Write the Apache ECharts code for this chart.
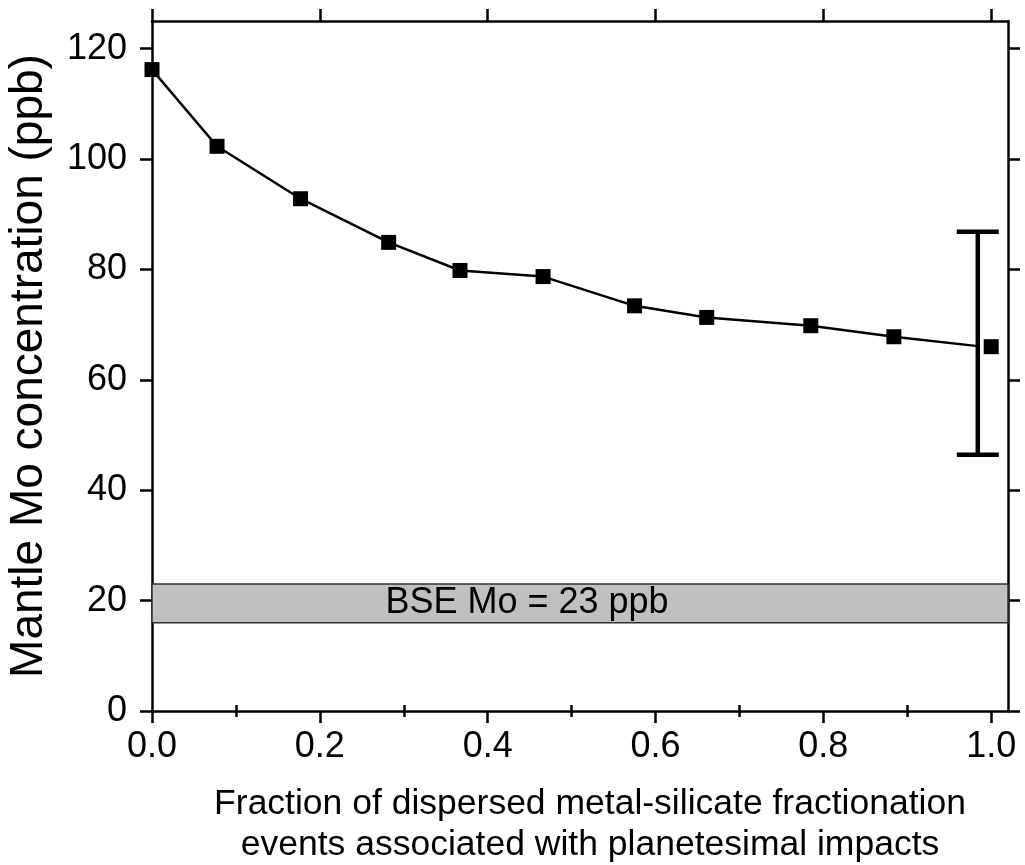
<!DOCTYPE html>
<html>
<head>
<meta charset="utf-8">
<script src="https://cdn.jsdelivr.net/npm/echarts@6/dist/echarts.min.js"></script>
<style>
  html, body { margin: 0; padding: 0; background: #fff; }
  #chart { width: 1025px; height: 865px; }
</style>
</head>
<body>
<div id="chart"></div>
<script>
// Fraction of dispersed events tied to planetesimal impacts
const fraction = [0.0, 0.0775, 0.177, 0.282, 0.367, 0.466, 0.575, 0.661, 0.785, 0.884, 0.984];
// Resulting mantle Mo concentration (ppb)
const moConc = [116.2, 102.3, 92.8, 84.9, 79.8, 78.7, 73.4, 71.3, 69.8, 67.8, 66.1];
// Final value drawn as a stand-alone marker at fraction 1.0
const finalPoint = [1.0, 66.0];
// Error bar on the final value: [x, low, high]
const errorBar = [0.984, 46.4, 86.8];
// Bulk silicate Earth band (ppb)
const bseBand = [16, 23];
const bseLabel = 'BSE Mo = 23 ppb';

const xMajor = [0, 0.2, 0.4, 0.6, 0.8, 1.0];
const xMinor = [0.1, 0.3, 0.5, 0.7, 0.9];
const yMajor = [0, 20, 40, 60, 80, 100, 120];

const FONT = '"Liberation Sans", Arial, sans-serif';
const INK = '#000';

function xAxisDef(opts) {
  return Object.assign({
    type: 'value', min: 0, max: 1.02,
    axisLine: { show: true, onZero: false, lineStyle: { color: INK, width: 2.5 } },
    splitLine: { show: false },
    axisLabel: { show: false },
    axisTick: { show: true, inside: false, length: 12, lineStyle: { color: INK, width: 2.5 }, customValues: xMajor }
  }, opts);
}
function yAxisDef(opts) {
  return Object.assign({
    type: 'value', min: 0, max: 125,
    axisLine: { show: true, onZero: false, lineStyle: { color: INK, width: 2.5 } },
    splitLine: { show: false },
    axisLabel: { show: false },
    axisTick: { show: true, inside: false, length: 12, lineStyle: { color: INK, width: 2.5 }, customValues: yMajor }
  }, opts);
}

const chart = echarts.init(document.getElementById('chart'), null, { renderer: 'canvas' });

chart.setOption({
  backgroundColor: '#fff',
  animation: false,
  textStyle: { fontFamily: FONT },
  grid: { left: 152, right: 17, top: 21, bottom: 154, containLabel: false, outerBoundsMode: 'none' },
  xAxis: [
    xAxisDef({
      position: 'bottom',
      name: 'Fraction of dispersed metal-silicate fractionation\nevents associated with planetesimal impacts',
      nameLocation: 'middle',
      nameGap: 73,
      nameTextStyle: { fontSize: 35.5, color: INK, lineHeight: 41, fontFamily: FONT, padding: [0, 0, 0, 20] },
      axisLabel: {
        show: true, fontSize: 36, color: INK, margin: 18, fontFamily: FONT,
        customValues: xMajor,
        formatter: v => v.toFixed(1)
      }
    }),
    xAxisDef({
      position: 'bottom', axisLine: { show: false },
      axisTick: { show: true, length: 6, lineStyle: { color: INK, width: 2.5 }, customValues: xMinor }
    }),
    xAxisDef({ position: 'top' }),
    xAxisDef({
      position: 'top', axisLine: { show: false },
      axisTick: { show: true, length: 6, lineStyle: { color: INK, width: 2.5 }, customValues: xMinor }
    })
  ],
  yAxis: [
    yAxisDef({
      position: 'left',
      name: 'Mantle Mo concentration (ppb)',
      nameLocation: 'middle',
      nameGap: 100,
      nameTextStyle: { fontSize: 46, color: INK, fontFamily: FONT },
      axisLabel: {
        show: true, fontSize: 36, color: INK, margin: 25, fontFamily: FONT,
        customValues: yMajor
      }
    }),
    yAxisDef({ position: 'right' })
  ],
  series: [
    {
      // BSE reference band
      type: 'line',
      data: [],
      xAxisIndex: 0, yAxisIndex: 0,
      markArea: {
        silent: true,
        itemStyle: { color: '#c0c0c0', borderColor: '#333', borderWidth: 1.5 },
        label: {
          show: true, position: 'inside', offset: [-53, 0],
          formatter: bseLabel, fontSize: 36, color: INK, fontFamily: FONT
        },
        data: [[{ yAxis: bseBand[0] }, { yAxis: bseBand[1] }]]
      },
      z: 1
    },
    {
      type: 'line',
      data: fraction.map((x, i) => ({
        value: [x, moConc[i]],
        symbol: i === fraction.length - 1 ? 'none' : 'rect'
      })),
      symbol: 'rect',
      symbolSize: 15,
      showAllSymbol: true,
      lineStyle: { color: INK, width: 2.5 },
      itemStyle: { color: INK, opacity: 1 },
      z: 3
    },
    {
      type: 'scatter',
      data: [finalPoint],
      symbol: 'rect',
      symbolSize: 15,
      itemStyle: { color: INK, opacity: 1 },
      z: 3
    },
    {
      type: 'custom',
      data: [errorBar],
      renderItem: function (params, api) {
        const x = api.value(0);
        const lo = api.coord([x, api.value(1)]);
        const hi = api.coord([x, api.value(2)]);
        const half = 21;
        const style = { stroke: INK, lineWidth: 4.5, fill: null };
        return {
          type: 'group',
          children: [
            { type: 'line', shape: { x1: lo[0], y1: lo[1], x2: hi[0], y2: hi[1] }, style: style },
            { type: 'line', shape: { x1: lo[0] - half, y1: lo[1], x2: lo[0] + half, y2: lo[1] }, style: style },
            { type: 'line', shape: { x1: hi[0] - half, y1: hi[1], x2: hi[0] + half, y2: hi[1] }, style: style }
          ]
        };
      },
      z: 4
    }
  ]
});
</script>
</body>
</html>
